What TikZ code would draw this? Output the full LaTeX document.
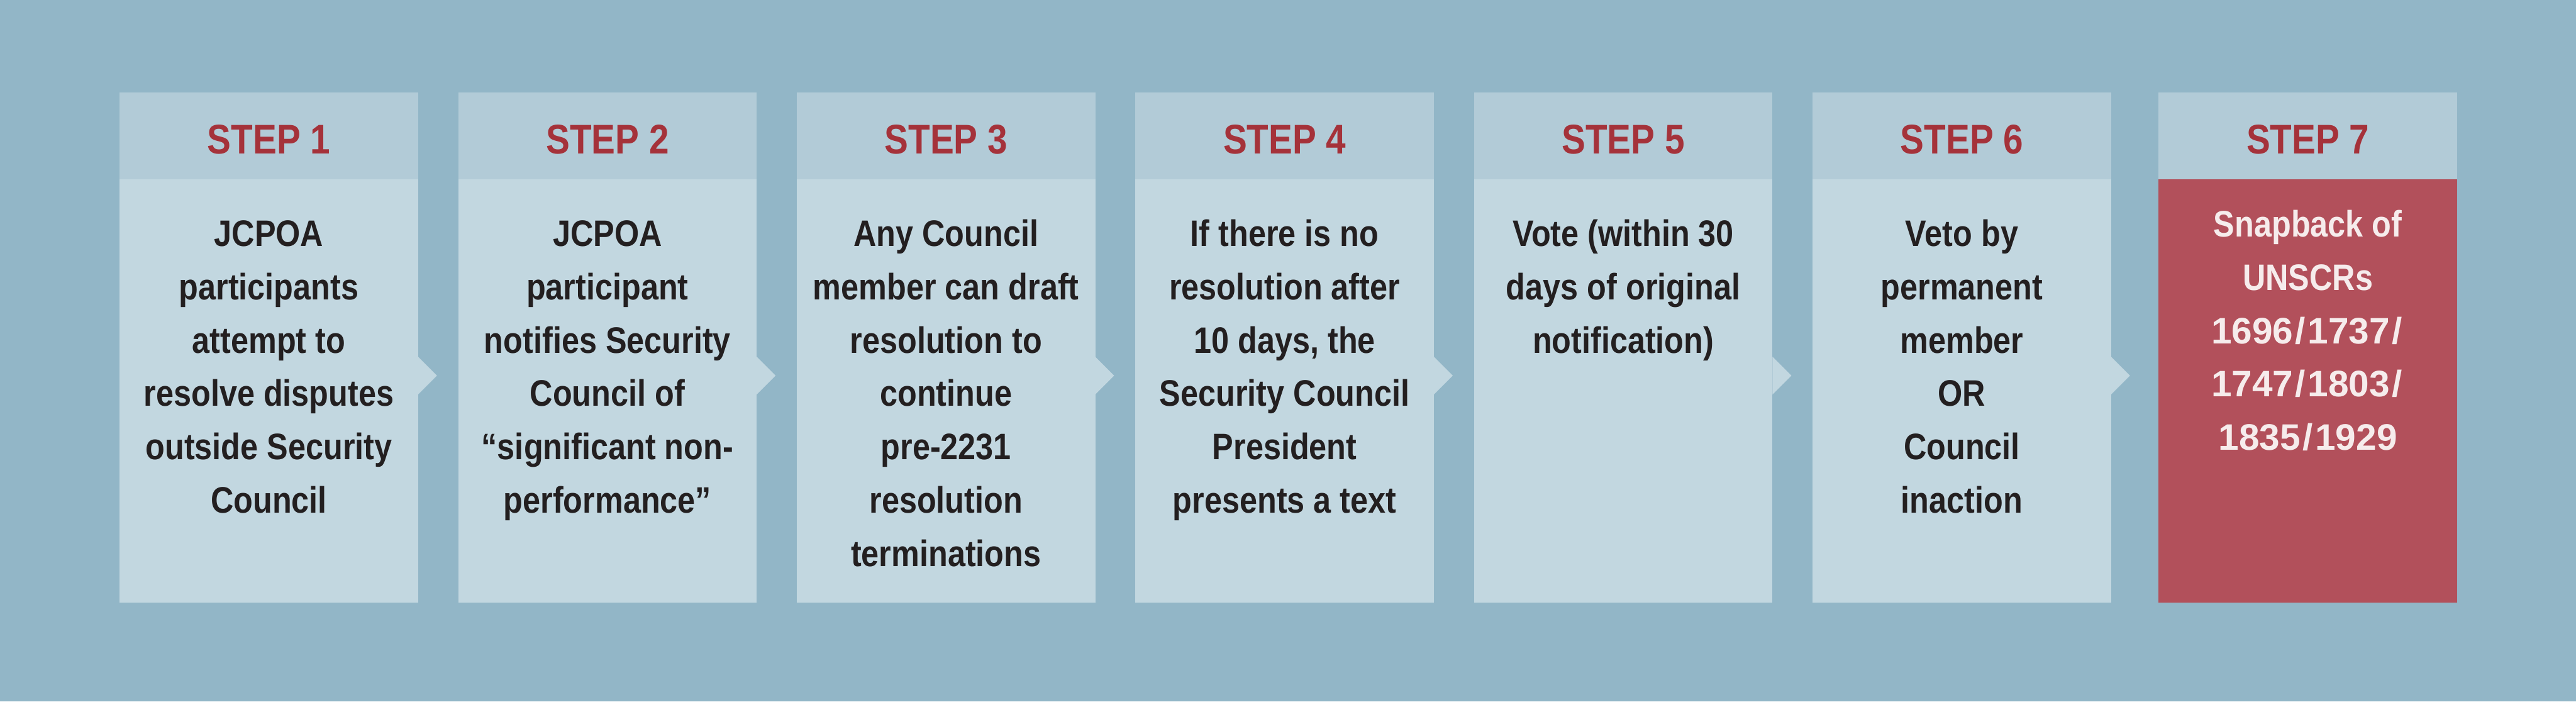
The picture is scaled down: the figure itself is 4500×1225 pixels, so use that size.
\documentclass[tikz,border=0pt]{standalone}
\usepackage{fontspec}
\newfontfamily\stepfont[FakeStretch=0.86]{Liberation Sans}
\newfontfamily\snapfont{Liberation Sans}
\definecolor{bgc}{HTML}{92B6C7}
\definecolor{headc}{HTML}{B2CBD7}
\definecolor{bodyc}{HTML}{C2D7E0}
\definecolor{snapc}{HTML}{B2505B}
\definecolor{stepred}{HTML}{A5323A}
\definecolor{textdark}{HTML}{231F20}
\definecolor{snaptext}{HTML}{F6ECEC}
\newcommand{\bodylines}[1]{\parbox[t]{5cm}{\centering #1}}
\newcommand{\sls}{\kern0.06em/\kern0.06em}
\tikzset{
  headbox/.style={fill=headc, draw=none, minimum width=5.21cm, minimum height=1.52cm, inner sep=0pt, outer sep=0pt, anchor=north west},
  bodybox/.style={fill=bodyc, draw=none, minimum width=5.21cm, minimum height=7.39cm, inner sep=0pt, outer sep=0pt, anchor=north west},
  headtext/.style={text=stepred, inner sep=0pt, anchor=base, font=\stepfont\bfseries\fontsize{20.6}{24}\selectfont},
  bodytext/.style={text=textdark, inner sep=0pt, anchor=base, font=\stepfont\bfseries\fontsize{18.3}{26.5}\selectfont},
  snaptextstyle/.style={text=snaptext, inner sep=0pt, anchor=base, font=\stepfont\bfseries\fontsize{18.3}{26.5}\selectfont},
  notch/.style={fill=bodyc, draw=none}
}
\begin{document}
\begin{tikzpicture}[x=0.01cm, y=-0.01cm]
\fill[bgc] (0,0) rectangle (4500,1225);
\useasboundingbox (0,0) rectangle (4500,1225);

% headers
\node[headbox] (h1) at (209,161) {};
\node[headbox] (h2) at (800.5,161) {};
\node[headbox] (h3) at (1392,161) {};
\node[headbox] (h4) at (1983.5,161) {};
\node[headbox] (h5) at (2575,161) {};
\node[headbox] (h6) at (3166.5,161) {};
\node[headbox] (h7) at (3771,161) {};

% bodies
\node[bodybox] (b1) at (209,313) {};
\node[bodybox] (b2) at (800.5,313) {};
\node[bodybox] (b3) at (1392,313) {};
\node[bodybox] (b4) at (1983.5,313) {};
\node[bodybox] (b5) at (2575,313) {};
\node[bodybox] (b6) at (3166.5,313) {};
\node[bodybox, fill=snapc] (b7) at (3771,313) {};

% notches
\foreach \b in {b1,b2,b3,b4,b5,b6}{
  \fill[notch] (\b.north east) ++(0,310) -- ++(33,33) -- ++(-33,33) -- cycle;
}

% header texts
\node[headtext] (s1) at ([yshift=-0.315cm]h1.center) {STEP 1};
\node[headtext] (s2) at ([yshift=-0.315cm]h2.center) {STEP 2};
\node[headtext] (s3) at ([yshift=-0.315cm]h3.center) {STEP 3};
\node[headtext] (s4) at ([yshift=-0.315cm]h4.center) {STEP 4};
\node[headtext] (s5) at ([yshift=-0.315cm]h5.center) {STEP 5};
\node[headtext] (s6) at ([yshift=-0.315cm]h6.center) {STEP 6};
\node[headtext] (s7) at ([yshift=-0.315cm]h7.center) {STEP 7};

% body texts
\node[bodytext] (t1) at ([yshift=-1.17cm]b1.north) {\bodylines{JCPOA\\participants\\attempt to\\resolve disputes\\outside Security\\Council}};
\node[bodytext] (t2) at ([yshift=-1.17cm]b2.north) {\bodylines{JCPOA\\participant\\notifies Security\\Council of\\\char"201C significant non-\\performance\char"201D}};
\node[bodytext] (t3) at ([yshift=-1.17cm]b3.north) {\bodylines{Any Council\\member can draft\\resolution to\\continue\\pre-2231\\resolution\\terminations}};
\node[bodytext] (t4) at ([yshift=-1.17cm]b4.north) {\bodylines{If there is no\\resolution after\\10 days, the\\Security Council\\President\\presents a text}};
\node[bodytext] (t5) at ([yshift=-1.17cm]b5.north) {\bodylines{Vote (within 30\\days of original\\notification)}};
\node[bodytext] (t6) at ([yshift=-1.17cm]b6.north) {\bodylines{Veto by\\permanent\\member\\OR\\Council\\inaction}};
\node[snaptextstyle] (t7) at ([yshift=-1.005cm]b7.north) {\bodylines{Snapback of\\UNSCRs\\{\snapfont 1696\sls 1737\sls}\\{\snapfont 1747\sls 1803\sls}\\{\snapfont 1835\sls 1929}}};
\end{tikzpicture}
\end{document}
